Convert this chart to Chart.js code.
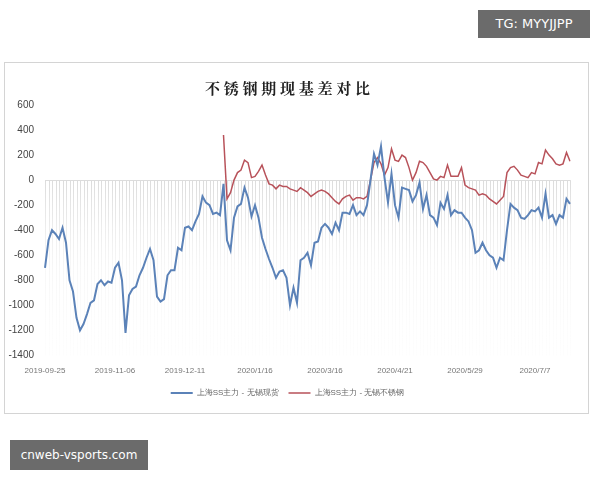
<!DOCTYPE html>
<html><head><meta charset="utf-8">
<script src="https://cdn.jsdelivr.net/npm/chart.js@4/dist/chart.umd.min.js"></script>
<style>
body{margin:0;width:600px;height:480px;background:#fff;position:relative;font-family:"Noto Sans CJK SC",sans-serif;overflow:hidden}
#box{position:absolute;left:4px;top:62px;width:585px;height:352px;border:1px solid #d4d4d4;box-sizing:border-box}
#tg{position:absolute;left:478px;top:10px;width:112px;height:28px;background:#6b6b6b;color:#fff;font:13px "DejaVu Sans";line-height:28px;text-align:center}
#site{position:absolute;left:10px;top:440px;width:138px;height:30px;background:#6b6b6b;color:#fff;font:12px "DejaVu Sans";line-height:30px;text-align:center}
</style></head><body>
<div id="box"><canvas id="c"></canvas></div>
<div id="tg">TG: MYYJJPP</div>
<div id="site">cnweb-vsports.com</div>
<script>
// ===== Data =====
const tickLabels = {0:'2019-09-25',20:'2019-11-06',40:'2019-12-11',60:'2020/1/16',80:'2020/3/16',100:'2020/4/21',120:'2020/5/29',140:'2020/7/7'};
const categories = Array.from({length:151}, (_, i) => tickLabels[i] || '');

const spotBasis = [-700,-480,-400,-430,-470,-380,-500,-800,-890,-1100,
 -1200,-1150,-1070,-980,-960,-830,-800,-840,-810,-820,
 -700,-660,-800,-1220,-920,-870,-850,-760,-700,-620,
 -550,-640,-930,-970,-950,-760,-720,-720,-540,-560,
 -380,-370,-400,-330,-270,-130,-180,-200,-270,-260,
 -280,-30,-480,-560,-300,-210,-190,-60,-140,-290,
 -200,-300,-460,-550,-630,-700,-780,-730,-720,-780,
 -1000,-860,-980,-640,-620,-580,-680,-500,-490,-380,
 -350,-380,-430,-340,-400,-260,-260,-270,-200,-280,
 -250,-280,-200,0,210,120,270,20,-180,50,
 -200,-300,-60,-70,-80,-170,-120,-20,-230,-120,
 -280,-300,-360,-180,-230,-120,-280,-240,-260,-260,
 -300,-330,-400,-580,-560,-500,-560,-600,-620,-700,
 -620,-640,-400,-190,-220,-240,-300,-310,-280,-240,
 -250,-220,-300,-110,-300,-280,-350,-280,-300,-150,-190];

const steelBasis = Array(51).fill(null).concat([360,-150,-100,0,60,80,160,140,20,
 30,70,120,40,-30,-40,-70,-40,-50,-50,
 -70,-80,-90,-60,-80,-100,-130,-110,-90,-80,
 -90,-110,-140,-170,-190,-150,-130,-120,-160,-140,
 -140,-150,-130,0,140,180,130,40,100,250,
 160,150,200,180,100,0,60,150,140,110,
 60,10,0,30,20,120,30,30,30,100,
 -40,-60,-70,-80,-120,-110,-120,-150,-170,-190,
 -160,-130,60,100,110,80,40,30,20,60,
 50,140,130,240,200,170,130,120,130,220,150]);

// faint vertical hatching between 0 and the axis floor
const hatch = {
  id: 'hatch',
  beforeDatasetsDraw(chart) {
    const {ctx, scales: {x, y}} = chart;
    const top = y.getPixelForValue(0), bot = y.getPixelForValue(-1400);
    const g = ctx.createLinearGradient(0, top, 0, bot);
    g.addColorStop(0, 'rgba(205,205,205,0.7)');
    g.addColorStop(0.5, 'rgba(235,235,235,0.4)');
    g.addColorStop(1, 'rgba(248,248,248,0.2)');
    ctx.save();
    ctx.strokeStyle = g;
    ctx.lineWidth = 1;
    for (let i = 0; i < categories.length; i++) {
      const px = Math.round(x.getPixelForValue(i)) + 0.5;
      ctx.beginPath(); ctx.moveTo(px, top); ctx.lineTo(px, bot); ctx.stroke();
    }
    ctx.strokeStyle = '#dcdcdc';
    ctx.beginPath(); ctx.moveTo(x.left, Math.round(top) + 0.5); ctx.lineTo(x.right, Math.round(top) + 0.5); ctx.stroke();
    ctx.restore();
  }
};

new Chart(document.getElementById('c'), {
  type: 'line',
  data: {
    labels: categories,
    datasets: [
      { label: '上海SS主力 - 无锡现货', data: spotBasis, borderColor: '#5b82b8', borderWidth: 2, pointRadius: 0, tension: 0 },
      { label: '上海SS主力 - 无锡不锈钢', data: steelBasis, borderColor: '#b8525a', borderWidth: 1.5, pointRadius: 0, tension: 0 }
    ]
  },
  options: {
    responsive: true, maintainAspectRatio: false, animation: false,
    layout: { padding: { left: 0, right: 18, top: 8, bottom: 6 } },
    plugins: {
      title: { display: true, text: '不 锈 钢 期 现 基 差 对 比', color: '#222',
        font: { family: '"Noto Serif CJK SC","Noto Sans CJK SC"', size: 15, weight: 'bold' }, padding: { top: 8, bottom: 8 } },
      legend: { position: 'bottom', labels: { boxWidth: 22, boxHeight: 0, color: '#666', font: { size: 8 }, padding: 10 } },
      tooltip: { enabled: false }
    },
    scales: {
      x: { grid: { display: false }, border: { display: false },
        ticks: { autoSkip: false, maxRotation: 0, color: '#777', font: { size: 8 } } },
      y: { min: -1400, max: 600, grid: { display: false }, border: { display: false },
        afterFit(s) { s.width = 40; },
        ticks: { stepSize: 200, color: '#444', font: { size: 10 }, callback: v => String(v) } }
    }
  },
  plugins: [hatch]
});
</script>
</body></html>
